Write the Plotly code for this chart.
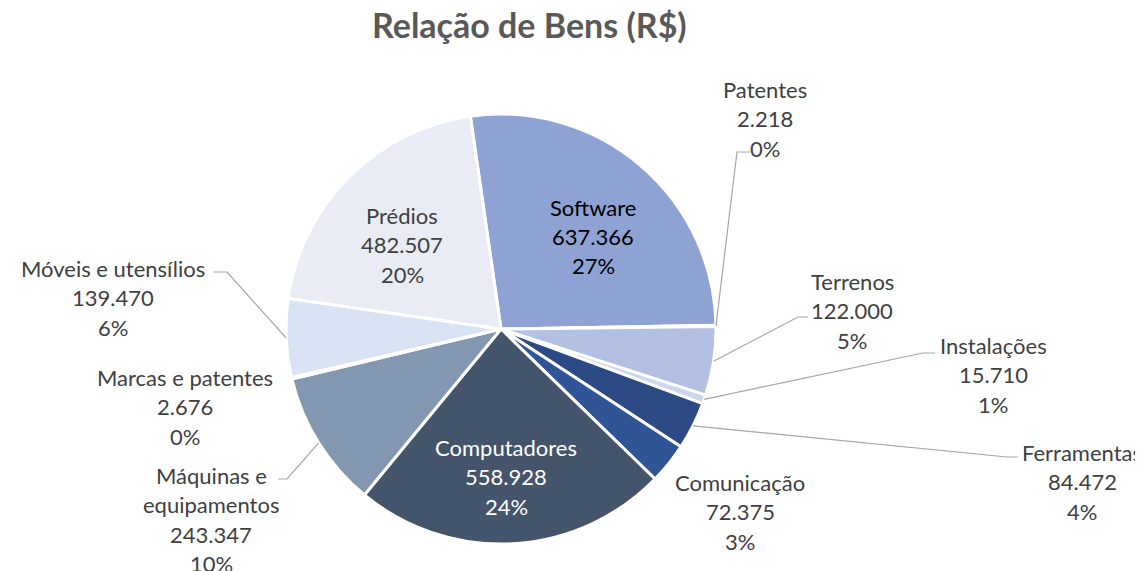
import math
import plotly.graph_objects as go

# ---- data ----
labels = ["Software", "Patentes", "Terrenos", "Instalações", "Ferramentas", "Comunicação",
          "Computadores", "Máquinas e equipamentos", "Marcas e patentes", "Móveis e utensílios", "Prédios"]
values = [637366, 2218, 122000, 15710, 84472, 72375, 558928, 243347, 2676, 139470, 482507]
colors = ["#8FA2D4", "#A3B3DD", "#B4C0E2", "#CDD5EC", "#2C4A85", "#2F5597",
          "#44546A", "#8497B0", "#ADB9CA", "#DAE3F3", "#E9EBF5"]
title = "Relação de Bens (R$)"

# ---- layout constants (pixels, in screen coordinates) ----
W, H = 1143, 571
OFF = 8  # page body margin
FW, FH = W - OFF, H - OFF
CX, CY, R = 501, 329, 215
ROT = -8.2
FONT = "Lato"
FS = 22
LH = 29.5

# label anchor: (center x, first line y, first-lines of name, text color)
label_pos = {
    "Software": (593, 207, ["Software"], "#000000"),
    "Patentes": (765, 89, ["Patentes"], "#404040"),
    "Terrenos": (852, 281, ["Terrenos"], "#404040"),
    "Instalações": (993, 345, ["Instalações"], "#404040"),
    "Ferramentas": (1082, 452, ["Ferramentas"], "#404040"),
    "Comunicação": (740, 482, ["Comunicação"], "#404040"),
    "Computadores": (506, 447, ["Computadores"], "#FFFFFF"),
    "Máquinas e equipamentos": (211, 475, ["Máquinas e", "equipamentos"], "#404040"),
    "Marcas e patentes": (185, 377, ["Marcas e patentes"], "#404040"),
    "Móveis e utensílios": (113, 268, ["Móveis e utensílios"], "#404040"),
    "Prédios": (402, 215, ["Prédios"], "#404040"),
}
# leader lines: elbow point and end point (pixels)
leaders = {
    "Patentes": ((737, 152), (750, 152)),
    "Terrenos": ((798, 317), (808, 317)),
    "Instalações": ((923, 353), (935, 353)),
    "Ferramentas": ((1007, 457), (1018, 457)),
    "Máquinas e equipamentos": ((287, 479), (278, 479)),
    "Móveis e utensílios": ((227, 272), (213, 272)),
}

def px(x):
    return (x - OFF) / FW

def py(y):
    return 1 - (y - OFF) / FH

total = sum(values)

fig = go.Figure(go.Pie(
    labels=labels, values=values, sort=False, direction="clockwise", rotation=ROT,
    marker=dict(colors=colors, line=dict(color="white", width=3)),
    textinfo="none", hoverinfo="label+value+percent", showlegend=False,
    domain=dict(x=[px(CX - R), px(CX + R)], y=[py(CY + R), py(CY - R)]),
))

annotations = []
shapes = []
cum = 0.0
for lab, val in zip(labels, values):
    mid = (cum + val / 2) / total
    cum += val
    ang = math.radians(mid * 360 + ROT)
    ex, ey = CX + R * math.sin(ang), CY - R * math.cos(ang)
    x0, y0, name_lines, col = label_pos[lab]
    lines = name_lines + [f"{val:,}".replace(",", "."), f"{round(val / total * 100)}%"]
    for i, t in enumerate(lines):
        annotations.append(dict(x=px(x0), y=py(y0 + i * LH), xref="paper", yref="paper",
                                text=t, showarrow=False, xanchor="center", yanchor="middle",
                                font=dict(family=FONT, size=FS, color=col)))
    if lab in leaders:
        (bx, by), (qx, qy) = leaders[lab]
        path = f"M {px(ex)} {py(ey)} L {px(bx)} {py(by)} L {px(qx)} {py(qy)}"
        shapes.append(dict(type="path", xref="paper", yref="paper", path=path,
                           line=dict(color="#A6A6A6", width=1.2)))

annotations.append(dict(x=px(529), y=py(25), xref="paper", yref="paper", text=f"<b>{title}</b>",
                        showarrow=False, xanchor="center", yanchor="middle",
                        font=dict(family=FONT, size=34, color="#595959")))

fig.update_layout(width=FW, height=FH, margin=dict(l=0, r=0, t=0, b=0),
                  paper_bgcolor="white", plot_bgcolor="white",
                  annotations=annotations, shapes=shapes)
fig.write_html("out.html")
